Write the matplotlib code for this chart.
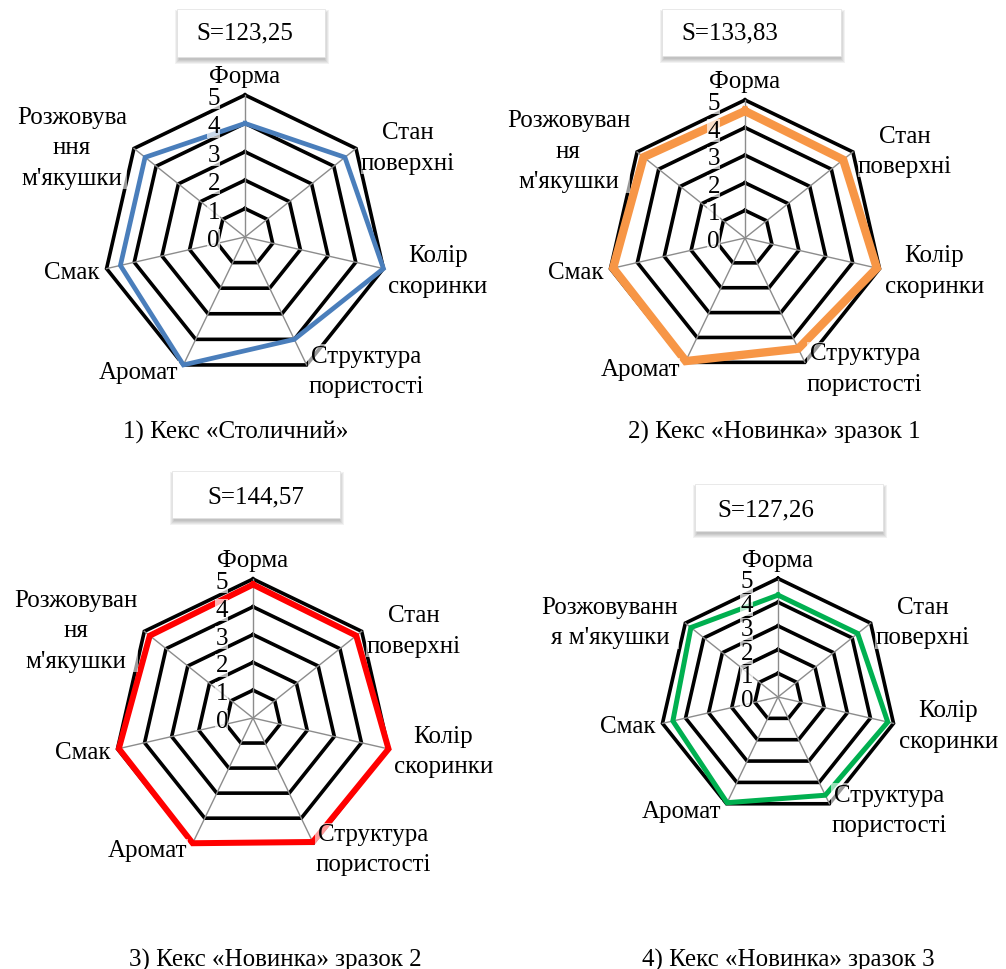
import numpy as np
import matplotlib.pyplot as plt
from matplotlib.patches import Rectangle

plt.rcParams['font.family'] = ['Liberation Serif', 'DejaVu Serif']

# показники органолептичної оцінки (бали, 0-5)
criteria = ['Форма', 'Стан поверхні', 'Колір скоринки', 'Структура пористості',
            'Аромат', 'Смак', "Розжовування м'якушки"]

# підписи осей з переносами для кожної діаграми
labels_1 = ['Форма', 'Стан\nповерхні', 'Колір\nскоринки', 'Структура\nпористості',
            'Аромат', 'Смак', "Розжовува\nння\nм'якушки"]
labels_2 = ['Форма', 'Стан\nповерхні', 'Колір\nскоринки', 'Структура\nпористості',
            'Аромат', 'Смак', "Розжовуван\nня\nм'якушки"]
labels_3 = labels_2
labels_4 = ['Форма', 'Стан\nповерхні', 'Колір\nскоринки', 'Структура\nпористості',
            'Аромат', 'Смак', "Розжовуванн\nя м'якушки"]

stolychnyi = [4.0, 4.5, 5.0, 4.0, 5.0, 4.5, 4.5]
novynka_1 = [4.6, 4.55, 4.9, 4.45, 4.95, 4.9, 4.7]
novynka_2 = [4.8, 4.75, 5.0, 4.95, 5.0, 4.95, 4.75]
novynka_3 = [4.3, 4.3, 4.75, 4.6, 4.95, 4.55, 4.7]

areas = ['S=123,25', 'S=133,83', 'S=144,57', 'S=127,26']
captions = ['1) Кекс «Столичний»', '2) Кекс «Новинка» зразок 1',
            '3) Кекс «Новинка» зразок 2', '4) Кекс «Новинка» зразок 3']
levels = [0, 1, 2, 3, 4, 5]

series = [stolychnyi, novynka_1, novynka_2, novynka_3]
axis_labels = [labels_1, labels_2, labels_3, labels_4]

# розміщення (у пікселях від верхнього лівого кута)
W, H = 1006, 970
centers = [(245, 238), (745, 239), (253, 719), (778, 698)]
radii = [142, 138, 139, 118.5]
boxes = [(177, 10, 148, 48), (662, 10, 179, 47), (172, 472, 168, 47), (695, 485, 188, 47)]
box_text = [(245, 33), (730, 33), (256, 497), (766, 510)]
cap_pos = [(236, 432), (774, 432), (275, 960), (788, 960)]
colors = ['#4a7ebb', '#f79646', '#ff0000', '#00b050']
widths = [3.4, 6.0, 4.3, 3.6]
lab_off = [('center', 0, 19), ('left', 5, 1), ('left', 5, -2), ('left', 2, -6),
           ('right', -5, -7), ('right', -7, -3), ('right', -7, 1)]


def fx(x):
    return x / W


def fy(y):
    return 1 - y / H


fig = plt.figure(figsize=(W / 100, H / 100), dpi=100)

n = len(criteria)
theta = np.arange(n) * 2 * np.pi / n
closed = np.append(theta, theta[0])

for k in range(4):
    cx, cy = centers[k]
    R = radii[k]
    ax = fig.add_axes([fx(cx - R), fy(cy + R), 2 * R / W, 2 * R / H], projection='polar')
    ax.set_theta_offset(np.pi / 2)
    ax.set_theta_direction(-1)
    ax.set_ylim(0, 5)
    ax.set_axis_off()

    for lvl in levels[1:]:
        ax.plot(closed, [lvl] * (n + 1), color='black', lw=2.6,
                solid_joinstyle='miter', clip_on=False, zorder=2)
    for t in theta:
        ax.plot([t, t], [0, 5], color='#8c8c8c', lw=1.0, clip_on=False, zorder=2.5)

    vals = series[k] + [series[k][0]]
    ax.plot(closed, vals, color=colors[k], lw=widths[k],
            solid_joinstyle='miter', clip_on=False, zorder=3)

    for lvl in levels:
        ax.annotate(str(lvl), xy=(0, lvl), xytext=(-25, -3), textcoords='offset pixels',
                    ha='right', va='center', fontsize=18, zorder=4,
                    bbox=dict(fc='white', ec='none', alpha=0.7, pad=0.1))

    for i, lab in enumerate(axis_labels[k]):
        ha, dx, dy = lab_off[i]
        ax.annotate(lab, xy=(theta[i], 5), xytext=(dx, dy), textcoords='offset pixels',
                    ha=ha, va='center', multialignment='center', fontsize=18,
                    linespacing=1.5, zorder=4, annotation_clip=False,
                    bbox=dict(fc='white', ec='none', alpha=0.6, pad=0.2))

    # рамка з площею та тінню
    bx, by, bw, bh = boxes[k]
    for s in range(5):
        fig.add_artist(Rectangle((fx(bx - s + 2), fy(by + bh + s + 3)),
                                 (bw + 2 * s - 2) / W, (bh + 2 * s - 2) / H,
                                 transform=fig.transFigure, fc='#000000',
                                 ec='none', alpha=0.05))
    fig.add_artist(Rectangle((fx(bx), fy(by + bh)), bw / W, bh / H,
                             transform=fig.transFigure, fc='white',
                             ec='#e0e0e0', lw=0.5))
    tx, ty = box_text[k]
    fig.text(fx(tx), fy(ty), areas[k], ha='center', va='center', fontsize=18)

    px, py = cap_pos[k]
    fig.text(fx(px), fy(py), captions[k], ha='center', va='center', fontsize=18)

fig.savefig('out.png', dpi=100)
